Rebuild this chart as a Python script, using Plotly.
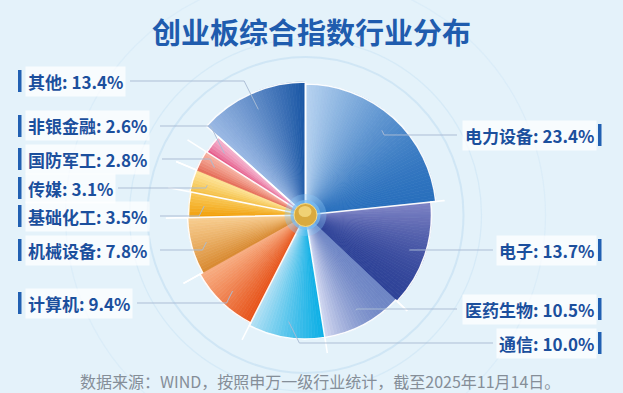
import math
import plotly.graph_objects as go

# ---------------- data ----------------
industries = ["电力设备", "电子", "医药生物", "通信", "计算机", "机械设备",
              "基础化工", "传媒", "国防军工", "非银金融", "其他"]
shares = [23.4, 13.7, 10.5, 10.0, 9.4, 7.8, 3.5, 3.1, 2.8, 2.6, 13.4]

title_text = "创业板综合指数行业分布"
footer_text = "数据来源：WIND，按照申万一级行业统计，截至2025年11月14日。"

# ---------------- styles / layout ----------------
W, H = 623, 393
CX, CY = 305.5, 215.0          # pie centre (px)
RMAX = 140.0                   # radial range == pixel radius
slice_radius = [131, 126, 124, 124, 121, 118, 117, 118, 118, 117, 133]
grad = [("#b6d2f0", "#2a70bd"), ("#7d82c4", "#2f4398"), ("#cfd5ef", "#6f86c5"),
        ("#b2e0f4", "#0fb0e6"), ("#f8ad82", "#e7541b"), ("#f7cc8e", "#d98b33"),
        ("#f9c652", "#f2a00c"), ("#fde294", "#f5c046"), ("#f6b0a0", "#e6705c"),
        ("#f4b0cc", "#e65f8c"), ("#9ab8e4", "#1b57a5")]
grad_dir = [(1, 0), (1, 1), (1, 1), (1, 1), (1, 1), (1, 1),
            (1, 1), (1, 1), (1, 1), (1, 1), (1, 0)]
label_side = ["R", "R", "R", "R", "L", "L", "L", "L", "L", "L", "L"]
label_y_px = [135, 250, 309, 343, 303, 250, 216, 188, 159, 126, 81]
label_edge_px = [457, 493, 457, 493, 137, 160, 160, 118, 162, 160, 130]

LABEL_COLOR = "#1b4f9d"
FONT = "Noto Sans CJK SC"


def hex2rgb(h):
    h = h.lstrip("#")
    return tuple(int(h[i:i + 2], 16) for i in (0, 2, 4))


def mix(c0, c1, t):
    a, b = hex2rgb(c0), hex2rgb(c1)
    return "rgb(%d,%d,%d)" % tuple(round(a[i] + (b[i] - a[i]) * t) for i in range(3))


def px(x):
    return x / W


def py(y):
    return 1 - y / H


def polar_px(theta_deg, r):
    t = math.radians(theta_deg)
    return CX + r * math.sin(t), CY - r * math.cos(t)


total = sum(shares)
fig = go.Figure()

starts = []
acc = 0.0
for v in shares:
    starts.append(acc / total * 360)
    acc += v
spans = [v / total * 360 for v in shares]

# gradient strips
for i, name in enumerate(industries):
    n = max(4, int(round(spans[i] / 1.5)))
    w = spans[i] / n
    mids = [starts[i] + w * (k + 0.5) for k in range(n)]
    dx, dy = grad_dir[i]
    norm = math.hypot(dx, dy)
    proj = []
    for m in mids:
        x, y = polar_px(m, slice_radius[i] * 0.6)
        proj.append(((x - CX) * dx + (y - CY) * dy) / norm)
    lo, hi = min(proj), max(proj)
    cols = [mix(grad[i][0], grad[i][1], (p - lo) / (hi - lo) if hi > lo else 0.5) for p in proj]
    fig.add_trace(go.Barpolar(
        r=[slice_radius[i]] * n, theta=mids, width=[w] * n,
        marker=dict(color=cols, line=dict(color=cols, width=0.7)),
        hoverinfo="skip", showlegend=False))

# white separators / outlines
fig.add_trace(go.Barpolar(
    r=slice_radius, theta=[s + sp / 2 for s, sp in zip(starts, spans)], width=spans,
    marker=dict(color="rgba(0,0,0,0)", line=dict(color="rgba(255,255,255,0.95)", width=1.6)),
    text=industries, hoverinfo="text", showlegend=False))

fig.update_layout(
    width=W, height=H, autosize=False,
    margin=dict(l=0, r=0, t=0, b=0),
    paper_bgcolor="#e4f2fa", plot_bgcolor="rgba(0,0,0,0)",
    polar=dict(
        domain=dict(x=[px(CX - RMAX), px(CX + RMAX)], y=[py(CY + RMAX), py(CY - RMAX)]),
        bgcolor="rgba(0,0,0,0)",
        radialaxis=dict(range=[0, RMAX], visible=False, showgrid=False),
        angularaxis=dict(direction="clockwise", rotation=90, visible=False, showgrid=False),
        bargap=0, hole=0),
    font=dict(family=FONT),
)

shapes = []
# decorative rings in background
for rr, col, lw in [(158, "rgba(205,228,244,0.9)", 2), (176, "rgba(212,233,246,0.9)", 1.2),
                    (240, "rgba(216,235,247,0.8)", 1.2)]:
    shapes.append(dict(type="circle", xref="paper", yref="paper", layer="below",
                       x0=px(CX - rr), x1=px(CX + rr), y0=py(CY + rr), y1=py(CY - rr),
                       line=dict(color=col, width=lw)))

# leader lines
for i in range(len(industries)):
    mid = starts[i] + spans[i] / 2
    ax, ay = polar_px(mid, slice_radius[i] * 0.87)
    ly = label_y_px[i]
    s = -1 if label_side[i] == "L" else 1
    ex = ax + s * 0.5 * abs(ay - ly)
    path = "M %f,%f L %f,%f L %f,%f" % (px(ax), py(ay), px(ex), py(ly),
                                         px(label_edge_px[i]), py(ly))
    shapes.append(dict(type="path", xref="paper", yref="paper", path=path, layer="above",
                       line=dict(color="rgba(170,188,212,0.95)", width=1)))

# centre glow and golden knob
for rr, fill, line in [(21, "rgba(140,200,245,0.35)", "rgba(0,0,0,0)"),
                       (15, "rgba(120,190,245,0.7)", "rgba(0,0,0,0)"),
                       (11.5, "#d9aa3f", "#f4dc8a")]:
    shapes.append(dict(type="circle", xref="paper", yref="paper", layer="above",
                       x0=px(CX - rr), x1=px(CX + rr), y0=py(CY + rr), y1=py(CY - rr),
                       fillcolor=fill, line=dict(color=line, width=1)))
shapes.append(dict(type="circle", xref="paper", yref="paper", layer="above",
                   x0=px(CX - 7), x1=px(CX + 6), y0=py(CY + 2), y1=py(CY - 9),
                   fillcolor="rgba(250,225,140,0.7)", line=dict(width=0)))

annotations = []
# labels
for i, name in enumerate(industries):
    txt = "<b>%s: %.1f%%</b>" % (name, shares[i])
    ly = label_y_px[i]
    left = label_side[i] == "L"
    annotations.append(dict(x=px(25 if left else 597), y=py(ly), xref="paper", yref="paper",
                            xanchor="left" if left else "right", yanchor="middle",
                            showarrow=False, text=txt,
                            font=dict(size=17, color=LABEL_COLOR, family=FONT),
                            bgcolor="rgba(255,255,255,0.72)", borderpad=2))
    bx = 18 if left else 598
    shapes.append(dict(type="rect", xref="paper", yref="paper", layer="above",
                       x0=px(bx), x1=px(bx + 3.5), y0=py(ly + 11), y1=py(ly - 11),
                       fillcolor="#2160b2", line=dict(width=0)))

annotations.append(dict(x=px(311), y=py(31), xref="paper", yref="paper",
                        xanchor="center", yanchor="middle", showarrow=False,
                        text="<b>%s</b>" % title_text,
                        font=dict(size=29, color="#1f5cae", family=FONT)))
annotations.append(dict(x=px(320), y=py(381), xref="paper", yref="paper",
                        xanchor="center", yanchor="middle", showarrow=False,
                        text=footer_text,
                        font=dict(size=16, color="#858e98", family=FONT)))

fig.update_layout(shapes=shapes, annotations=annotations)
fig.write_html("out.html", config={"displayModeBar": False},
               post_script="document.body.style.margin='0';")
